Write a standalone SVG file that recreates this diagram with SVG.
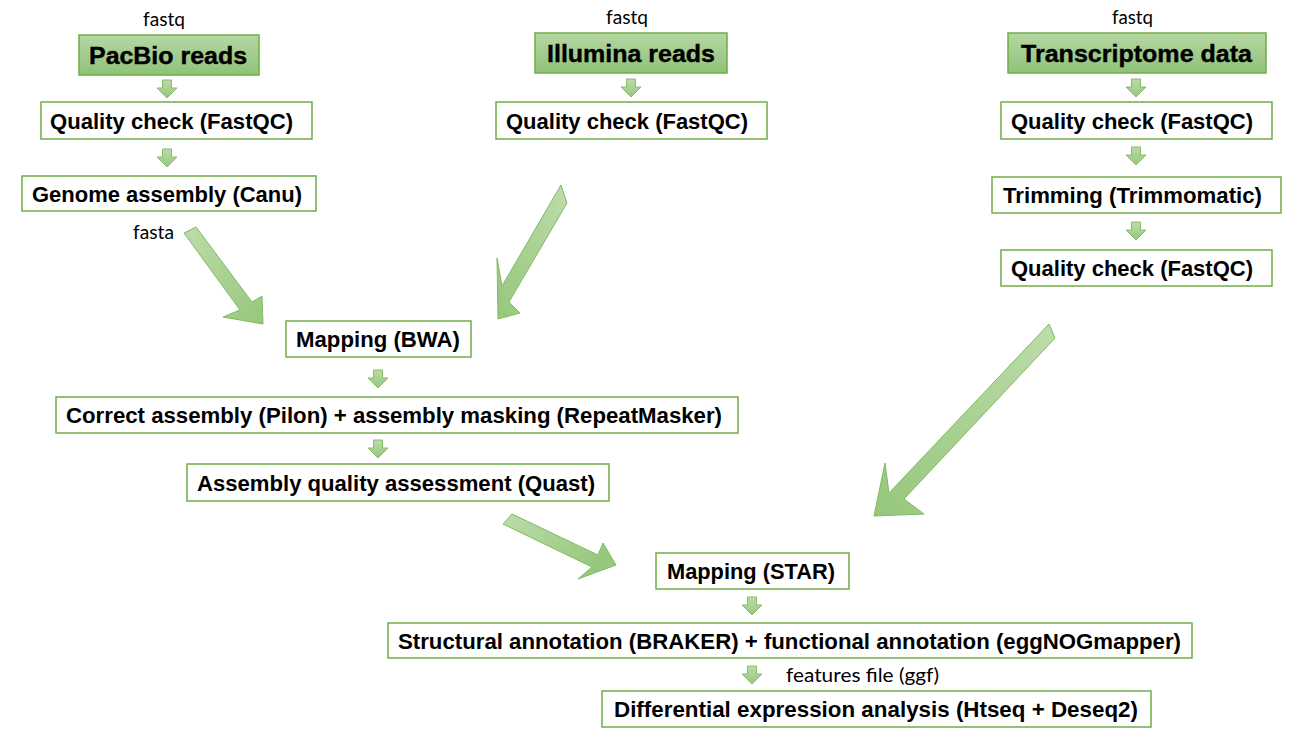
<svg xmlns="http://www.w3.org/2000/svg" width="1296" height="733" viewBox="0 0 1296 733">
<defs>
<linearGradient id="hdr" x1="0" y1="0" x2="0" y2="1">
<stop offset="0" stop-color="#b6d7a3"/>
<stop offset="1" stop-color="#8fc279"/>
</linearGradient>
<linearGradient id="sa" x1="0" y1="0" x2="0" y2="1">
<stop offset="0" stop-color="#bcdba8"/>
<stop offset="1" stop-color="#97c77f"/>
</linearGradient>
<linearGradient id="gTL" x1="0" y1="0" x2="1" y2="1">
<stop offset="0" stop-color="#bddcaa"/>
<stop offset="1" stop-color="#96c77d"/>
</linearGradient>
<linearGradient id="gTR" x1="1" y1="0" x2="0" y2="1">
<stop offset="0" stop-color="#bddcaa"/>
<stop offset="1" stop-color="#96c77d"/>
</linearGradient>
<linearGradient id="gL" x1="0" y1="0" x2="1" y2="0.5">
<stop offset="0" stop-color="#bddcaa"/>
<stop offset="1" stop-color="#96c77d"/>
</linearGradient>
<path id="da" d="M-4.5,0 H4.5 V8 H10 L0,18 L-10,8 H-4.5 Z"/>
<style>
.box{fill:#ffffff;stroke:#70ad47;stroke-width:1.5}
.hbox{fill:url(#hdr);stroke:#70ad47;stroke-width:1.5}
.t{font-family:"Liberation Sans",Arial,sans-serif;font-weight:bold;font-size:22px;fill:#000}
.ht{font-family:"Liberation Sans",Arial,sans-serif;font-weight:bold;font-size:24px;fill:#000;stroke:#000;stroke-width:0.4}
.lb{font-family:Lato,"Open Sans",sans-serif;font-size:19.5px;fill:#000}
.sarr{fill:url(#sa);stroke:#86bd68;stroke-width:1}
.big{stroke:#80ba62;stroke-width:1;stroke-linejoin:miter}
</style>
</defs>
<rect width="1296" height="733" fill="#ffffff"/>

<g id="connectors">
<use href="#da" class="sarr" x="167" y="80"/>
<use href="#da" class="sarr" x="167" y="149"/>
<use href="#da" class="sarr" x="631" y="79"/>
<use href="#da" class="sarr" x="1136" y="79"/>
<use href="#da" class="sarr" x="1136" y="147"/>
<use href="#da" class="sarr" x="1136" y="222"/>
<use href="#da" class="sarr" x="378" y="370"/>
<use href="#da" class="sarr" x="378" y="440"/>
<use href="#da" class="sarr" x="752" y="597"/>
<use href="#da" class="sarr" x="752" y="666"/>
<polygon class="big" fill="url(#gTL)" points="184,233 196,227 252,302 262,296 263,324 223,317 240,310"/>
<polygon class="big" fill="url(#gTR)" points="561,185 567,203 509,302 520,313 498,319 497,258 502,286"/>
<polygon class="big" fill="url(#gTR)" points="1049,324 1055,338 904,499 924,514 874,516 885,463 889,493"/>
<polygon class="big" fill="url(#gL)" points="512,514 598,555 603,543 616,565 578,579 592,567 503,524"/>
</g>

<g id="lbl-fastq1"><text class="lb" x="143" y="26" textLength="42" lengthAdjust="spacingAndGlyphs">fastq</text></g>
<g id="lbl-fastq2"><text class="lb" x="606" y="24" textLength="42" lengthAdjust="spacingAndGlyphs">fastq</text></g>
<g id="lbl-fastq3"><text class="lb" x="1112" y="24" textLength="41" lengthAdjust="spacingAndGlyphs">fastq</text></g>
<g id="lbl-fasta"><text class="lb" x="133" y="239" textLength="41" lengthAdjust="spacingAndGlyphs">fasta</text></g>
<g id="lbl-features"><text class="lb" x="786" y="682" textLength="153" lengthAdjust="spacingAndGlyphs">features file (ggf)</text></g>

<g id="pacbio"><rect class="hbox" x="79" y="35" width="180" height="40"/><text class="ht" x="89" y="63.5" textLength="158" lengthAdjust="spacingAndGlyphs">PacBio reads</text></g>
<g id="illumina"><rect class="hbox" x="535" y="33" width="192" height="40"/><text class="ht" x="547" y="61.5" textLength="168" lengthAdjust="spacingAndGlyphs">Illumina reads</text></g>
<g id="transcriptome"><rect class="hbox" x="1008" y="33" width="258" height="40"/><text class="ht" x="1021" y="61.5" textLength="231" lengthAdjust="spacingAndGlyphs">Transcriptome data</text></g>

<g id="qc1"><rect class="box" x="41" y="102" width="271" height="37"/><text class="t" x="50" y="128.5" textLength="243" lengthAdjust="spacingAndGlyphs">Quality check (FastQC)</text></g>
<g id="qc2"><rect class="box" x="496" y="102" width="271" height="37"/><text class="t" x="506" y="128.5" textLength="242" lengthAdjust="spacingAndGlyphs">Quality check (FastQC)</text></g>
<g id="qc3"><rect class="box" x="1001" y="102" width="271" height="37"/><text class="t" x="1011" y="128.5" textLength="242" lengthAdjust="spacingAndGlyphs">Quality check (FastQC)</text></g>
<g id="genome"><rect class="box" x="22" y="176" width="294" height="35"/><text class="t" x="32" y="201.5" textLength="270" lengthAdjust="spacingAndGlyphs">Genome assembly (Canu)</text></g>
<g id="trimming"><rect class="box" x="992" y="177" width="289" height="36"/><text class="t" x="1003" y="203" textLength="259" lengthAdjust="spacingAndGlyphs">Trimming (Trimmomatic)</text></g>
<g id="qc4"><rect class="box" x="1001" y="250" width="271" height="36"/><text class="t" x="1011" y="276" textLength="242" lengthAdjust="spacingAndGlyphs">Quality check (FastQC)</text></g>
<g id="bwa"><rect class="box" x="286" y="321" width="185" height="36"/><text class="t" x="296" y="347" textLength="164" lengthAdjust="spacingAndGlyphs">Mapping (BWA)</text></g>
<g id="correct"><rect class="box" x="56" y="397" width="682" height="36"/><text class="t" x="66" y="423" textLength="656" lengthAdjust="spacingAndGlyphs">Correct assembly (Pilon) + assembly masking (RepeatMasker)</text></g>
<g id="quast"><rect class="box" x="187" y="464" width="422" height="37"/><text class="t" x="197" y="490.5" textLength="398" lengthAdjust="spacingAndGlyphs">Assembly quality assessment (Quast)</text></g>
<g id="star"><rect class="box" x="656" y="553" width="193" height="36"/><text class="t" x="667" y="579" textLength="168" lengthAdjust="spacingAndGlyphs">Mapping (STAR)</text></g>
<g id="structural"><rect class="box" x="388" y="623" width="804" height="35"/><text class="t" x="398" y="648.5" textLength="783" lengthAdjust="spacingAndGlyphs">Structural annotation (BRAKER) + functional annotation (eggNOGmapper)</text></g>
<g id="differential"><rect class="box" x="602" y="691" width="549" height="36"/><text class="t" x="614" y="717" textLength="524" lengthAdjust="spacingAndGlyphs">Differential expression analysis (Htseq + Deseq2)</text></g>
</svg>
